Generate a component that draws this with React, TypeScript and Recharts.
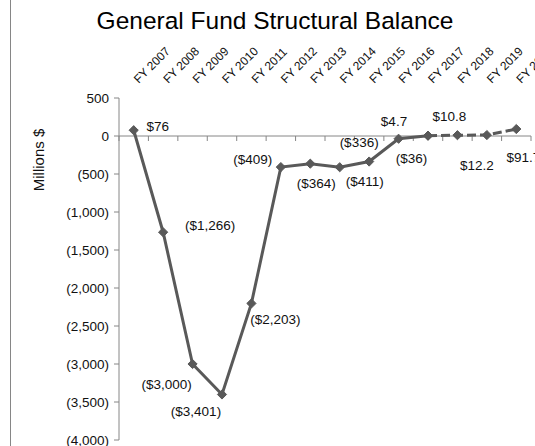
import React from 'react';
import {
  LineChart,
  Line,
  XAxis,
  YAxis,
  ReferenceLine,
  LabelList
} from 'recharts';

// Fiscal years along the category axis
const years = [
  'FY 2007', 'FY 2008', 'FY 2009', 'FY 2010', 'FY 2011', 'FY 2012', 'FY 2013',
  'FY 2014', 'FY 2015', 'FY 2016', 'FY 2017', 'FY 2018', 'FY 2019', 'FY 2020'
];

// Structural balance, millions $
const balance = [76, -1266, -3000, -3401, -2203, -409, -364, -411, -336, -36, 4.7, 10.8, 12.2, 91.7];

// Data label text as printed on the chart
const balanceLabels = [
  '$76', '($1,266)', '($3,000)', '($3,401)', '($2,203)', '($409)', '($364)',
  '($411)', '($336)', '($36)', '$4.7', '$10.8', '$12.2', '$91.7'
];

// Last actual year; later years drawn dashed
const lastActual = 'FY 2017';

const yTicks = [500, 0, -500, -1000, -1500, -2000, -2500, -3000, -3500, -4000];

// label offsets from the point (centre of text), layout only
const labelOffsets: [number, number][] = [
  [24, -4], [47, -7], [-26, 20], [-26, 17], [24, 16], [-28, -8], [6, 20],
  [25, 14], [-10, -19], [13, 20], [-34, -14], [-8, -19], [-10, 30], [7, 28]
];

const LINE = '#595959';
const AXIS = '#868686';
const FONT = 'Arial, "Liberation Sans", sans-serif';

const splitIdx = years.indexOf(lastActual);

const data = years.map((year, i) => ({
  year,
  actual: i <= splitIdx ? balance[i] : null,
  projected: i >= splitIdx ? balance[i] : null
}));

const fmtTick = (v: number) =>
  v < 0 ? `(${Math.abs(v).toLocaleString('en-US')})` : `${v}`;

const Diamond = (props: any) => {
  const { cx, cy, index } = props;
  if (cx == null || cy == null) return <g key={`d-${index}`} />;
  const r = 4.6;
  return (
    <path
      key={`d-${index}`}
      d={`M${cx},${cy - r} L${cx + r},${cy} L${cx},${cy + r} L${cx - r},${cy} Z`}
      fill={LINE}
      stroke={LINE}
    />
  );
};

const makeLabel = (from: number, to: number) => (props: any) => {
  const { x, y, index, value } = props;
  if (value == null || x == null || y == null) return null;
  if (index < from || index > to) return null;
  const [dx, dy] = labelOffsets[index];
  return (
    <text
      key={`l-${index}`}
      x={x + dx}
      y={y + dy}
      textAnchor="middle"
      dominantBaseline="central"
      fontSize={13.5}
      fontFamily={FONT}
      fill="#111"
    >
      {balanceLabels[index]}
    </text>
  );
};

const YearTick = (props: any) => {
  const { x, payload } = props;
  const tx = x + 5;
  return (
    <text
      x={tx}
      y={84}
      transform={`rotate(-45, ${tx}, 84)`}
      textAnchor="start"
      fontSize={12}
      fontFamily={FONT}
      fill="#111"
    >
      {payload.value}
    </text>
  );
};

// zero line spanning first..last category, extended half a step each side,
// with tick marks between categories
const ZeroAxis = (props: any) => {
  const { x1, x2, y1 } = props;
  const n = years.length;
  const step = (x2 - x1) / (n - 1);
  const start = x1 - step / 2;
  const ticks = [];
  for (let i = 0; i <= n; i++) {
    const tx = start + i * step;
    ticks.push(<line key={i} x1={tx} y1={y1} x2={tx} y2={y1 + 5} stroke={AXIS} />);
  }
  return (
    <g>
      <line x1={start} y1={y1} x2={start + n * step} y2={y1} stroke={AXIS} />
      {ticks}
    </g>
  );
};

const AxisTitle = (props: any) => {
  const { viewBox } = props;
  const cx = viewBox.x + 28;
  const cy = viewBox.y + 62;
  return (
    <text
      x={cx}
      y={cy}
      transform={`rotate(-90, ${cx}, ${cy})`}
      textAnchor="middle"
      dominantBaseline="central"
      fontSize={15}
      fontFamily={FONT}
      fill="#111"
    >
      Millions $
    </text>
  );
};

export default function App() {
  return (
    <div style={{ position: 'absolute', left: 0, top: 0, width: 535, height: 446, background: '#fff', overflow: 'hidden' }}>
      <div
        style={{
          position: 'absolute',
          left: 10,
          top: 0,
          width: 0,
          height: 446,
          borderLeft: `1px solid ${AXIS}`
        }}
      />
      <div
        style={{
          position: 'absolute',
          left: 275,
          top: 9,
          transform: 'translateX(-50%)',
          whiteSpace: 'nowrap',
          fontFamily: FONT,
          fontSize: 24.5,
          lineHeight: 1,
          color: '#000'
        }}
      >
        General Fund Structural Balance
      </div>
      <LineChart
        width={535}
        height={446}
        data={data}
        margin={{ top: 38, right: 4, bottom: 6, left: 10 }}
      >
        <XAxis
          dataKey="year"
          orientation="top"
          padding={{ left: 14.7, right: 14.7 }}
          height={60}
          interval={0}
          axisLine={false}
          tickLine={false}
          tick={<YearTick />}
        />
        <YAxis
          domain={[-4000, 500]}
          ticks={yTicks}
          width={109}
          interval={0}
          tickFormatter={fmtTick}
          stroke={AXIS}
          tickSize={5}
          tickMargin={5}
          tick={{ fontSize: 13.5, fontFamily: FONT, fill: '#111' }}
          label={<AxisTitle />}
        />
        <ReferenceLine
          segment={[{ x: years[0], y: 0 }, { x: years[years.length - 1], y: 0 }]}
          shape={<ZeroAxis />}
          ifOverflow="visible"
        />
        <Line
          dataKey="actual"
          stroke={LINE}
          strokeWidth={3}
          dot={<Diamond />}
          activeDot={false}
          isAnimationActive={false}
        >
          <LabelList dataKey="actual" content={makeLabel(0, splitIdx)} />
        </Line>
        <Line
          dataKey="projected"
          stroke={LINE}
          strokeWidth={3}
          strokeDasharray="9 4"
          dot={<Diamond />}
          activeDot={false}
          isAnimationActive={false}
        >
          <LabelList dataKey="projected" content={makeLabel(splitIdx + 1, years.length - 1)} />
        </Line>
      </LineChart>
    </div>
  );
}
